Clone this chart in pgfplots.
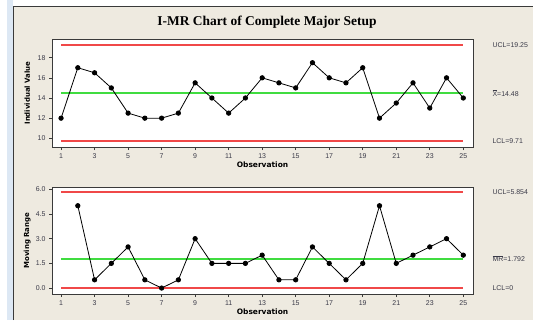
\documentclass[border=0pt]{standalone}
\usepackage{pgfplots}
\pgfplotsset{compat=1.18}
\usepackage{fontspec}
\setmainfont{Liberation Sans}
\newfontfamily\titlefont{Liberation Serif}
\newfontfamily\labfont{DejaVu Sans}
\definecolor{bg}{HTML}{EEEAE0}
\definecolor{ucl}{HTML}{F04848}
\definecolor{cl}{HTML}{40DC40}
\definecolor{frame}{HTML}{3A3A3A}
\definecolor{tick}{HTML}{3A3A48}
\definecolor{side}{HTML}{DDE8F4}

\pgfplotsset{imr/.style={
  scale only axis, width=421bp,
  xmin=0.46, xmax=25.58,
  axis background/.style={fill=white},
  axis line style={frame, line width=0.9bp},
  xtick={1,3,...,25},
  tick align=outside,
  tick style={frame, line width=0.6bp},
  major tick length=3bp,
  xtick pos=bottom, ytick pos=left,
  tick label style={font=\fontsize{7}{8}\selectfont, text=tick},
  xlabel={Observation},
  xlabel style={font=\labfont\bfseries\fontsize{7.5}{8}\selectfont, at={(axis description cs:0.5,0)}, anchor=center, yshift=-18bp},
  ylabel style={font=\labfont\bfseries\fontsize{7}{8}\selectfont, at={(axis description cs:-0.059,0.5)}, anchor=center},
  clip=false,
  /pgf/number format/assume math mode=true,
}}

\begin{document}
\begin{tikzpicture}[x=1bp,y=1bp]
\useasboundingbox (0,0) rectangle (533,320);
\fill[white] (0,0) rectangle (533,320);
\fill[side] (7,0) rectangle (13,320);
\fill[bg] (13,0) rectangle (533,313);
\draw[frame, line width=1bp] (13.5,0) -- (13.5,313.5) -- (533,313.5);
\node[font=\titlefont\bfseries\fontsize{13.5}{14}\selectfont] at (267,298) {I-MR Chart of Complete Major Setup};

% Individual values chart
\begin{axis}[imr, at={(52bp,173bp)}, anchor=south west, height=108bp,
  ymin=9.14, ymax=19.85, ytick={10,12,14,16,18},
  ylabel={Individual Value}]
\addplot[ucl, line width=1.8bp] coordinates {(1,19.25) (25,19.25)};
\addplot[ucl, line width=1.8bp] coordinates {(1,9.71) (25,9.71)};
\addplot[cl, line width=1.6bp] coordinates {(1,14.48) (25,14.48)};
\addplot[black, line width=0.8bp, mark=*, mark size=2.2bp] coordinates {
(1,12) (2,17) (3,16.5) (4,15) (5,12.5) (6,12) (7,12) (8,12.5) (9,15.5) (10,14)
(11,12.5) (12,14) (13,16) (14,15.5) (15,15) (16,17.5) (17,16) (18,15.5) (19,17) (20,12)
(21,13.5) (22,15.5) (23,13) (24,16) (25,14)};
\node[anchor=west, xshift=16bp, font=\fontsize{7}{8}\selectfont, text=tick] at (axis cs:25.58,19.25) {UCL=19.25};
\node[anchor=west, xshift=16bp, font=\fontsize{7}{8}\selectfont, text=tick] at (axis cs:25.58,14.48) {$\overline{\hbox{X}}$=14.48};
\node[anchor=west, xshift=16bp, font=\fontsize{7}{8}\selectfont, text=tick] at (axis cs:25.58,9.71) {LCL=9.71};
\end{axis}

% Moving range chart
\begin{axis}[imr, at={(52bp,26bp)}, anchor=south west, height=106.7bp,
  ymin=-0.36, ymax=6.12, ytick={0,1.5,3,4.5,6},
  yticklabel style={/pgf/number format/.cd, fixed, fixed zerofill, precision=1},
  ylabel={Moving Range}]
\addplot[ucl, line width=1.8bp] coordinates {(1,5.854) (25,5.854)};
\addplot[ucl, line width=1.8bp] coordinates {(1,0) (25,0)};
\addplot[cl, line width=2bp] coordinates {(1,1.792) (25,1.792)};
\addplot[black, line width=0.8bp, mark=*, mark size=2.2bp] coordinates {
(2,5) (3,0.5) (4,1.5) (5,2.5) (6,0.5) (7,0) (8,0.5) (9,3) (10,1.5)
(11,1.5) (12,1.5) (13,2) (14,0.5) (15,0.5) (16,2.5) (17,1.5) (18,0.5) (19,1.5) (20,5)
(21,1.5) (22,2) (23,2.5) (24,3) (25,2)};
\node[anchor=west, xshift=16bp, font=\fontsize{7}{8}\selectfont, text=tick] at (axis cs:25.58,5.854) {UCL=5.854};
\node[anchor=west, xshift=16bp, font=\fontsize{7}{8}\selectfont, text=tick] at (axis cs:25.58,1.792) {$\overline{\hbox{MR}}$=1.792};
\node[anchor=west, xshift=16bp, font=\fontsize{7}{8}\selectfont, text=tick] at (axis cs:25.58,0) {LCL=0};
\end{axis}
\end{tikzpicture}
\end{document}
